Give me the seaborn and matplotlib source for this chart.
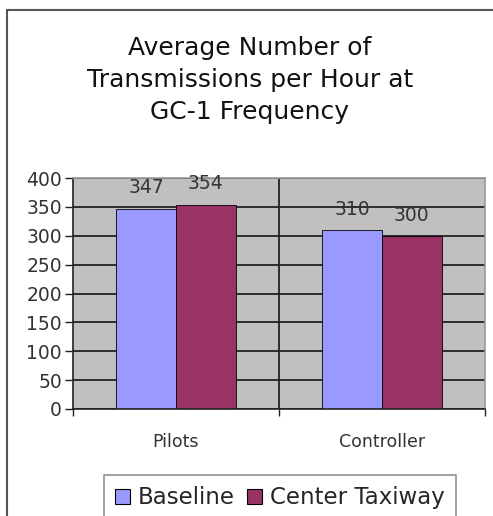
import matplotlib
matplotlib.use("Agg")
import matplotlib.pyplot as plt
import seaborn as sns
import pandas as pd
from matplotlib.lines import Line2D
from matplotlib.patches import Patch

categories = ["Pilots", "Controller"]
series = ["Baseline", "Center Taxiway"]
baseline = [347, 310]
center_taxiway = [354, 300]
yticks = [0, 50, 100, 150, 200, 250, 300, 350, 400]
title = "Average Number of\nTransmissions per Hour at\nGC-1 Frequency"

colors = {"Baseline": "#9999FF", "Center Taxiway": "#993366"}

df = pd.DataFrame({
    "category": categories * 2,
    "series": [series[0]] * 2 + [series[1]] * 2,
    "value": baseline + center_taxiway,
})

sns.set_theme(style="white")
plt.rcParams["font.family"] = ["DejaVu Sans"]

fig = plt.figure(figsize=(4.93, 5.16), dpi=100)
W, H = 493, 516
ax = fig.add_axes([73 / W, 1 - 409 / H, (485 - 73) / W, (409 - 178) / H])
ax.set_facecolor("#C0C0C0")

sns.barplot(data=df, x="category", y="value", hue="series", order=categories,
            hue_order=series, palette=colors, width=0.58, edgecolor="black",
            linewidth=0.6, ax=ax, legend=False, saturation=1)

for cont in ax.containers:
    ax.bar_label(cont, fmt="%d", padding=8, fontsize=13.5, color="#333333")

ax.set_xlim(-0.5, 1.5)
ax.set_ylim(0, 400)
ax.set_yticks(yticks)
ax.set_yticklabels([str(t) for t in yticks], fontsize=13.5, color="#333333")
ax.set_xticks([0, 1])
ax.set_xticklabels(categories, fontsize=12.5, color="#333333")
ax.set_xticks([-0.5, 0.5, 1.5], minor=True)
ax.tick_params(axis="x", which="major", length=0, pad=17)
ax.tick_params(axis="x", which="minor", length=5, width=1, color="#222222", direction="out", bottom=True)
ax.tick_params(axis="y", length=6, width=1, color="#222222", direction="out", left=True, pad=2)
ax.set_xlabel("")
ax.set_ylabel("")

ax.set_axisbelow(True)
ax.yaxis.grid(True, color="#222222", linewidth=1.3)
ax.axvline(0.5, color="#222222", linewidth=1.3, zorder=0.5)

for side in ["left", "bottom"]:
    ax.spines[side].set_color("#222222")
    ax.spines[side].set_linewidth(1.2)
for side in ["top", "right"]:
    ax.spines[side].set_color("#9a9a9a")
    ax.spines[side].set_linewidth(1.2)

fig.text(250 / W, 1 - 80 / H, title, ha="center", va="center", fontsize=18,
         linespacing=1.42, color="#111111")

handles = [Patch(facecolor=colors[s], edgecolor="black", linewidth=0.8, label=s) for s in series]
leg = fig.legend(handles=handles, loc="upper left", bbox_to_anchor=(104 / W, 1 - 475 / H),
                 ncol=2, fontsize=16.5, frameon=True, fancybox=False, edgecolor="#777777",
                 handlelength=0.62, handleheight=0.62, handletextpad=0.35,
                 columnspacing=0.55, borderpad=0.5, borderaxespad=0)
leg.get_frame().set_linewidth(1.2)

fig.add_artist(Line2D([7 / W, 7 / W], [0, 1 - 10 / H], color="#555555", linewidth=1.5))
fig.add_artist(Line2D([7 / W, 1], [1 - 10 / H, 1 - 10 / H], color="#555555", linewidth=1.5))

fig.savefig("out.png", dpi=100)
